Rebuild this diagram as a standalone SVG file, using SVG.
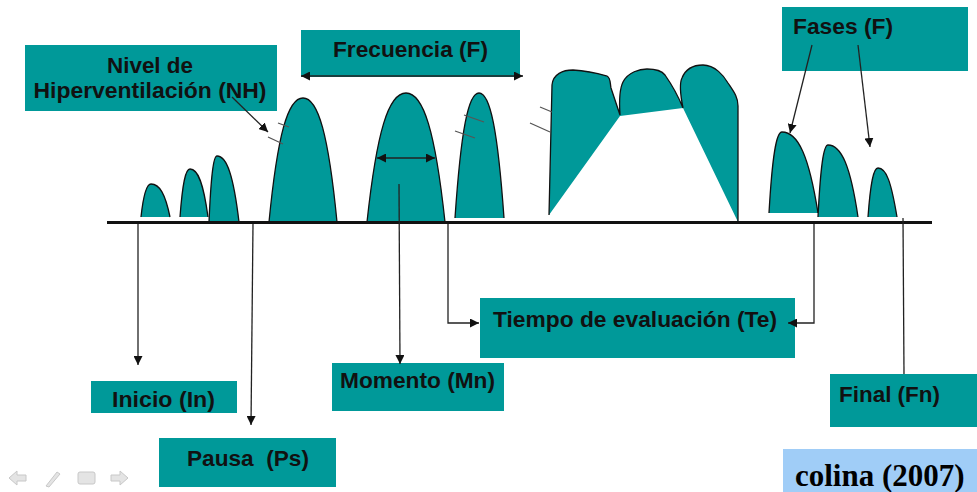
<svg xmlns="http://www.w3.org/2000/svg" width="977" height="492" viewBox="0 0 977 492">
<style>
.box{fill:#009999}
.lbl{font-family:"Liberation Sans",Arial,sans-serif;font-weight:bold;font-size:22px;fill:#111}
.pk{fill:#009999;stroke:#111;stroke-width:1.3}
.cn{fill:none;stroke:#222;stroke-width:1.3}
.tk{fill:none;stroke:#555;stroke-width:1.3}
.nav{fill:#e4e4e4;stroke:#c8c8c8;stroke-width:1}
</style>
<defs>
<marker id="ah" viewBox="0 0 10 10" refX="10" refY="5" markerWidth="9" markerHeight="9" markerUnits="userSpaceOnUse" orient="auto-start-reverse">
<path d="M0,0 L10,5 L0,10 Z" fill="#111"/>
</marker>
</defs>
<rect width="977" height="492" fill="#fff"/>

<g id="waves">
<path class="pk" d="M141,217 C143.5,193.9 146.5,184 151,184 C159.6,184 165.25,193.9 170,217"/>
<path class="pk" d="M180,217 C182.5,183.4 185.5,169 190,169 C198.1,169 203.5,183.4 208,217"/>
<path class="pk" d="M209,222 C211,175.8 213.4,156 217,156 C226.9,156 233.5,175.8 239,222"/>
<path class="pk" d="M269,222 C277.5,135.2 287.7,98 303,98 C318.3,98 328.5,135.2 337,222"/>
<path class="pk" d="M367,222 C376.75,131.7 388.45,93 406,93 C423.55,93 435.25,131.7 445,222"/>
<path class="pk" d="M455,218 C461,130.5 468.2,93 479,93 C490.25,93 497.75,130.5 504,218"/>
<path fill="#009999" d="M549,215 L552,85 C553,74 563,70 573,70 C590,71 600,74 607,76 C611,78 610,84 611,88 L620,115 C619,100 620,88 623,82 C628,72 640,69 647,69 C656,69 662,71 665,75 C672,85 679,98 683,108 C681,98 679,84 682,78 C686,68 695,65 703,65 C715,65 724,76 728,83 C734,92 738,97 738,106 L738,222 L683,108 L620,116 Z"/>
<path fill="none" stroke="#111" stroke-width="1.3" d="M549,215 L552,85 C553,74 563,70 573,70 C590,71 600,74 607,76 C611,78 610,84 611,88 L620,115 C619,100 620,88 623,82 C628,72 640,69 647,69 C656,69 662,71 665,75 C672,85 679,98 683,108 C681,98 679,84 682,78 C686,68 695,65 703,65 C715,65 724,76 728,83 C734,92 738,97 738,106 L738,222"/>
<path class="pk" d="M769,213 C772.25,156.3 776.15,132 782,132 C798.2,132 809,156.3 818,213"/>
<path class="pk" d="M818,217 C820.5,166.6 823.5,145 828,145 C841.5,145 850.5,166.6 858,217"/>
<path class="pk" d="M868,217 C870.5,182.7 873.5,168 878,168 C886.55,168 891.25,182.7 897,217"/>
<line x1="107" y1="222.5" x2="932" y2="222.5" stroke="#111" stroke-width="3"/>
<path class="tk" d="M278,123 L289,127 M268,137 L283,144 M464,115 L484,122 M455,131 L475,138 M540,107 L552,112 M530,123 L550,132"/>
</g>

<g id="nh"><rect class="box" x="25" y="45" width="252" height="66"/>
<text class="lbl" x="150" y="73" text-anchor="middle" textLength="86" lengthAdjust="spacingAndGlyphs">Nivel de</text>
<text class="lbl" x="150" y="98" text-anchor="middle" textLength="233" lengthAdjust="spacingAndGlyphs">Hiperventilación (NH)</text></g>
<g id="frecuencia"><rect class="box" x="301" y="30" width="219" height="47"/>
<text class="lbl" x="333" y="57" textLength="155" lengthAdjust="spacingAndGlyphs">Frecuencia (F)</text></g>
<g id="fases"><rect class="box" x="782" y="7" width="186" height="64"/>
<text class="lbl" x="793" y="34" textLength="100" lengthAdjust="spacingAndGlyphs">Fases (F)</text></g>
<g id="tiempo"><rect class="box" x="480" y="298" width="315" height="60"/>
<text class="lbl" x="493" y="327" textLength="284" lengthAdjust="spacingAndGlyphs">Tiempo de evaluación (Te)</text></g>
<g id="momento"><rect class="box" x="332" y="363" width="172" height="48"/>
<text class="lbl" x="340" y="388" textLength="155" lengthAdjust="spacingAndGlyphs">Momento (Mn)</text></g>
<g id="inicio"><rect class="box" x="91" y="381" width="146" height="32"/>
<text class="lbl" x="112" y="407" textLength="103" lengthAdjust="spacingAndGlyphs">Inicio (In)</text></g>
<g id="pausa"><rect class="box" x="159" y="438" width="177" height="49"/>
<text class="lbl" x="187" y="466" textLength="122" lengthAdjust="spacingAndGlyphs" xml:space="preserve">Pausa  (Ps)</text></g>
<g id="final"><rect class="box" x="830" y="374" width="147" height="53"/>
<text class="lbl" x="839" y="402" textLength="101" lengthAdjust="spacingAndGlyphs">Final (Fn)</text></g>
<g id="colina"><rect x="783" y="449" width="194" height="43" fill="#a0cdf7"/>
<text x="795" y="486" font-family="'Liberation Serif','Times New Roman',serif" font-weight="bold" font-size="31" fill="#000">colina (2007)</text></g>

<g id="connectors">
<line class="cn" x1="301" y1="76" x2="523" y2="76" marker-start="url(#ah)" marker-end="url(#ah)" stroke-width="1.8"/>
<line class="cn" x1="377" y1="158" x2="435" y2="158" marker-start="url(#ah)" marker-end="url(#ah)" stroke-width="1.8"/>
<line class="cn" x1="232" y1="97" x2="268" y2="132" marker-end="url(#ah)"/>
<line class="cn" x1="812" y1="45" x2="790" y2="133" marker-end="url(#ah)"/>
<line class="cn" x1="858" y1="45" x2="870" y2="147" marker-end="url(#ah)"/>
<line class="cn" x1="138" y1="224" x2="138" y2="365" marker-end="url(#ah)"/>
<line class="cn" x1="253" y1="224" x2="251" y2="425" marker-end="url(#ah)"/>
<line class="cn" x1="399" y1="184" x2="400" y2="364" marker-end="url(#ah)"/>
<polyline class="cn" points="448,224 448,323 479,323" marker-end="url(#ah)"/>
<polyline class="cn" points="814,224 814,323 788,323" marker-end="url(#ah)"/>
<line class="cn" x1="903" y1="218" x2="904" y2="374"/>
</g>

<g id="nav">
<path class="nav" d="M9,478 L17,471 L17,475 L26,475 L26,481 L17,481 L17,485 Z"/>
<path class="nav" d="M46,486 L57,472 L60,474 L49,487 Z"/>
<rect class="nav" x="78" y="472" width="17" height="12" rx="2"/>
<path class="nav" d="M128,478 L120,471 L120,475 L111,475 L111,481 L120,481 L120,485 Z"/>
</g>
</svg>
